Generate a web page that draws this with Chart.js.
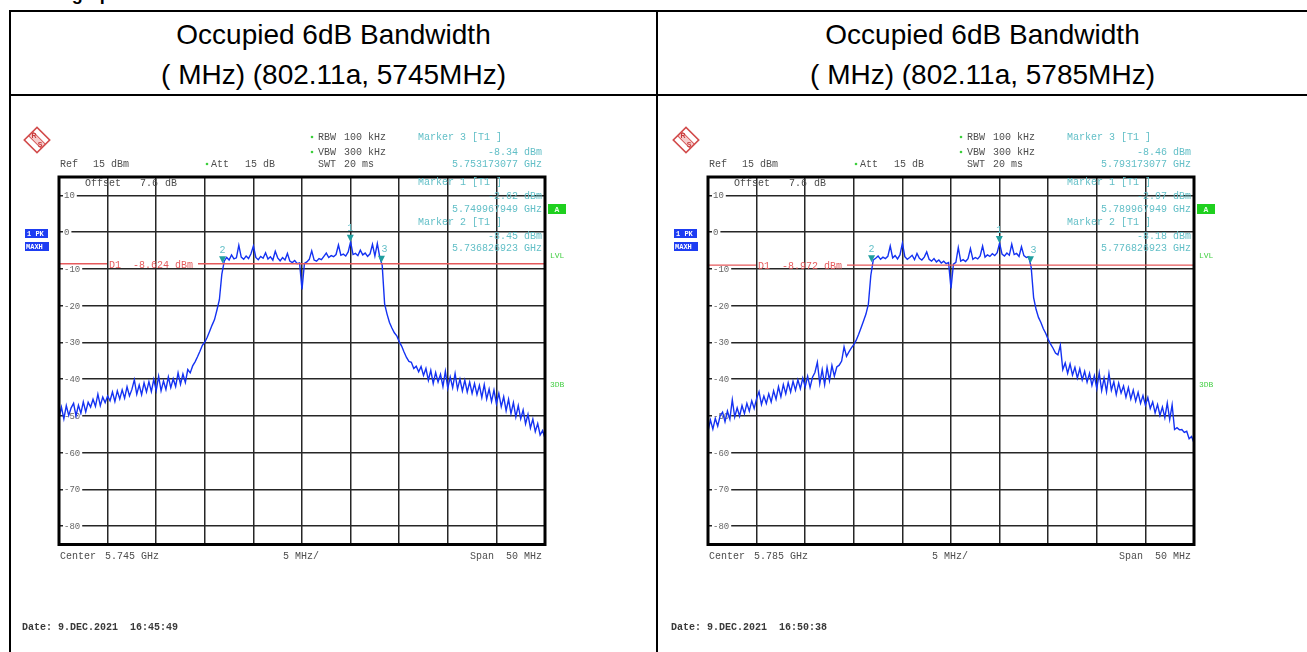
<!DOCTYPE html>
<html>
<head>
<meta charset="utf-8">
<script src="https://cdn.jsdelivr.net/npm/chart.js@4.4.0/dist/chart.umd.min.js"></script>
<style>
body { margin:0; background:#fff; width:1307px; height:652px; overflow:hidden; position:relative; font-family:"Liberation Sans", Arial, sans-serif; }
.ln { position:absolute; background:#000; }
.hd { position:absolute; text-align:center; font-size:28px; line-height:28px; color:#000; white-space:nowrap; }
canvas { position:absolute; }
</style>
</head>
<body>
<div style="position:absolute;left:31px;top:-17.5px;font:bold 18px 'Liberation Sans';line-height:22px">Test graph</div>

<div class="ln" style="left:9px;top:10px;width:1300px;height:2px"></div>
<div class="ln" style="left:9px;top:94px;width:1300px;height:2px"></div>
<div class="ln" style="left:9px;top:10px;width:2px;height:642px"></div>
<div class="ln" style="left:656px;top:10px;width:2px;height:642px"></div>

<div class="hd" style="left:11px;width:645px;top:21px">Occupied 6dB Bandwidth</div>
<div class="hd" style="left:11px;width:645px;top:61px">( MHz) (802.11a, 5745MHz)</div>
<div class="hd" style="left:658px;width:649px;top:21px">Occupied 6dB Bandwidth</div>
<div class="hd" style="left:658px;width:649px;top:61px">( MHz) (802.11a, 5785MHz)</div>

<canvas id="plotA" width="645" height="556" style="left:11px;top:96px"></canvas>
<canvas id="plotB" width="648" height="556" style="left:658px;top:96px"></canvas>

<script>
// spectrum analyser sweep, 0.25 MHz per sample, 50 MHz span
var freqStep = 0.25;
var span = 50;
var startA = 5720;
var startB = 5760;

var yTickValues = [10, 0, -10, -20, -30, -40, -50, -60, -70, -80];

// 5745 MHz trace (dBm)
var levelsA = [
  -50.6, -47.6, -50.8, -47.2, -49.9, -47.8, -46.6, -50.0, -47.1, -49.3,
  -46.2, -48.9, -46.3, -47.6, -45.5, -47.4, -44.1, -47.2, -44.9, -46.4,
  -44.6, -45.9, -43.5, -46.1, -43.2, -45.4, -42.9, -45.2, -42.1, -44.6,
  -42.8, -40.2, -44.1, -41.6, -44.2, -41.0, -43.5, -40.7, -43.4, -40.1,
  -43.1, -39.2, -43.2, -40.5, -42.8, -39.4, -42.3, -39.9, -42.0, -38.3,
  -41.4, -38.6, -40.9, -37.4, -38.3, -36.4, -35.3, -33.9, -32.4, -30.8,
  -29.9, -28.6, -27.0, -25.3, -23.8, -21.2, -18.4, -11.5, -7.9, -6.9,
  -7.6, -6.2, -7.3, -7.0, -3.6, -6.8, -7.4, -6.5, -7.2, -5.9,
  -3.8, -6.9, -7.5, -6.6, -7.1, -5.6, -7.3, -6.7, -7.6, -5.2,
  -7.0, -7.8, -6.9, -7.6, -5.8, -7.9, -8.3, -7.7, -8.6, -8.4,
  -15.6, -8.5, -8.1, -7.4, -5.1, -7.6, -7.9, -7.2, -7.5, -6.6,
  -5.7, -6.9, -6.4, -6.7, -6.1, -3.5, -6.3, -6.0, -6.5, -5.4,
  -2.62, -6.1, -5.8, -6.4, -4.9, -6.2, -5.7, -6.6, -5.9, -3.3,
  -6.5, -3.1, -6.8, -9.0, -19.5, -22.3, -24.6, -26.1, -27.4, -28.2,
  -29.8, -31.0, -32.6, -34.1, -35.2, -35.4, -37.1, -36.5, -38.0, -36.6,
  -39.0, -37.1, -40.3, -37.6, -41.2, -38.2, -40.8, -38.7, -42.0, -37.9,
  -42.5, -39.4, -42.3, -38.5, -42.7, -40.0, -43.2, -40.3, -43.5, -40.8,
  -43.9, -41.2, -44.2, -41.7, -45.0, -41.5, -45.4, -42.7, -46.1, -43.0,
  -46.7, -43.9, -47.5, -44.8, -48.6, -45.5, -49.4, -46.4, -50.3, -47.2,
  -50.8, -48.4, -52.2, -49.6, -53.3, -50.9, -54.3, -52.1, -55.2, -54.0,
  -56.1
];

// 5785 MHz trace (dBm)
var levelsB = [
  -54.2, -51.1, -53.6, -50.7, -52.8, -50.0, -49.0, -51.6, -48.7, -50.9,
  -45.6, -50.3, -47.8, -50.1, -47.2, -49.4, -46.6, -48.7, -45.9, -48.0,
  -45.3, -43.4, -46.9, -44.6, -46.6, -44.0, -46.2, -43.2, -45.5, -42.1,
  -44.8, -41.5, -44.0, -41.0, -43.5, -40.6, -43.0, -40.2, -42.6, -39.7,
  -42.1, -39.2, -42.3, -39.5, -38.2, -35.4, -41.2, -37.4, -41.5, -36.8,
  -40.4, -36.3, -39.2, -36.7, -36.2, -35.1, -31.2, -33.8, -32.6, -31.5,
  -30.6, -29.4, -27.8, -26.0, -24.2, -22.3, -19.6, -11.8, -7.6, -7.1,
  -6.5, -7.4, -6.8, -7.2, -6.6, -3.8, -7.0, -6.4, -7.3, -6.2,
  -3.0, -6.7, -7.4, -6.9, -6.3, -7.5, -5.8, -7.1, -7.6, -6.8,
  -5.4, -7.4, -7.9, -7.2, -8.1, -7.6, -8.4, -7.9, -8.6, -8.3,
  -15.3, -8.7, -8.2, -4.2, -7.9, -7.5, -8.0, -7.2, -4.5, -7.4,
  -6.9, -7.3, -6.5, -3.8, -6.8, -6.2, -6.6, -5.9, -6.4, -5.6,
  -2.97, -6.0, -6.5, -5.7, -6.3, -3.3, -6.1, -5.8, -6.6, -4.0,
  -6.4, -6.9, -6.7, -9.6, -17.8, -21.0, -23.2, -24.6, -26.3, -27.6,
  -29.2, -30.5, -31.6, -32.9, -33.4, -30.8, -37.4, -35.6, -38.4, -35.9,
  -38.9, -36.8, -39.7, -37.2, -40.2, -37.9, -40.8, -38.4, -41.7, -39.1,
  -42.6, -38.3, -43.1, -39.7, -43.4, -38.5, -43.0, -40.7, -44.2, -41.1,
  -43.8, -41.9, -44.9, -42.3, -45.4, -43.0, -46.0, -43.6, -46.6, -44.5,
  -47.1, -45.0, -48.0, -46.2, -49.2, -46.9, -49.9, -47.6, -50.5, -46.5,
  -51.0, -47.0, -53.7, -53.2, -53.8, -53.7, -54.5, -54.2, -56.2, -55.6,
  -57.4
];

// markers 1, 2, 3 (MHz, dBm)
var markerFreqA = [5749.967949, 5736.826923, 5753.173077];
var markerLevelA = [-2.62, -8.45, -8.34];
var markerFreqB = [5789.967949, 5776.826923, 5793.173077];
var markerLevelB = [-2.97, -8.18, -8.46];
var displayLineA = -8.624;
var displayLineB = -8.972;

var grey = '#4d4d4d', cyan = '#62bfc7', red = '#e65a5c', green = '#45cf45';

function txt(ctx, s, x, y, color, align, font) {
	ctx.font = font || '10px "Liberation Mono"';
	ctx.fillStyle = color;
	ctx.textAlign = align || 'left';
	ctx.textBaseline = 'middle';
	ctx.fillText(s, x, y);
}

function drawLogo(ctx, cx, cy) {
	ctx.save();
	ctx.translate(cx, cy);
	ctx.rotate(Math.PI / 4);
	ctx.fillStyle = 'rgba(225,110,110,0.35)';
	ctx.fillRect(-9, -3, 18, 6);
	ctx.strokeStyle = '#d24b4b';
	ctx.lineWidth = 1.6;
	ctx.strokeRect(-9, -9, 18, 18);
	ctx.beginPath();
	ctx.moveTo(-9, -3); ctx.lineTo(9, -3);
	ctx.moveTo(-9, 3); ctx.lineTo(9, 3);
	ctx.lineWidth = 1;
	ctx.stroke();
	ctx.restore();
	txt(ctx, 'R', cx - 3, cy - 4, '#c83c3c', 'center', 'bold 7px "Liberation Sans"');
	txt(ctx, 'S', cx + 3, cy + 5, '#c83c3c', 'center', 'bold 7px "Liberation Sans"');
}

function makeAnnot(info) {
	return {
		id: 'annot',
		beforeDatasetsDraw: function (chart) {
			var ctx = chart.ctx, a = chart.chartArea, y = chart.scales.y;
			ctx.save();
			ctx.font = '9px "Liberation Mono"';
			yTickValues.forEach(function (v) {
				var py = y.getPixelForValue(v);
				var t = String(v);
				var w = ctx.measureText(t).width;
				ctx.fillStyle = '#fff';
				ctx.fillRect(a.left + 4, py - 4, w + 3, 8);
				txt(ctx, t, a.left + 5, py + 0.5, '#666', 'left', '9px "Liberation Mono"');
			});
			ctx.restore();
		},
		afterDatasetsDraw: function (chart) {
			var ctx = chart.ctx, a = chart.chartArea, x = chart.scales.x, y = chart.scales.y;
			ctx.save();
			// display line D1
			var py = y.getPixelForValue(info.d1);
			ctx.strokeStyle = red;
			ctx.lineWidth = 1.4;
			ctx.beginPath();
			ctx.moveTo(a.left, py); ctx.lineTo(a.left + 48, py);
			ctx.moveTo(a.left + 139, py); ctx.lineTo(a.right, py);
			ctx.stroke();
			txt(ctx, 'D1  ' + info.d1 + ' dBm', a.left + 50, py + 1.5, red);
			// marker triangles
			var names = ['1', '2', '3'];
			info.mf.forEach(function (f, i) {
				var mx = x.getPixelForValue(f), my = y.getPixelForValue(info.ml[i]);
				ctx.fillStyle = '#1f9e9e';
				ctx.beginPath();
				ctx.moveTo(mx - 3.5, my - 7);
				ctx.lineTo(mx + 3.5, my - 7);
				ctx.lineTo(mx, my);
				ctx.closePath();
				ctx.fill();
				txt(ctx, names[i], mx + (i == 2 ? 3 : 0), my - 13, cyan, 'center');
			});
			ctx.restore();
		},
		afterDraw: function (chart) {
			var ctx = chart.ctx, a = chart.chartArea;
			var L = a.left, T = a.top, B = a.bottom;
			ctx.save();
			ctx.strokeStyle = '#000';
			ctx.lineWidth = 3;
			ctx.strokeRect(L, T, a.right - L, B - T);

			drawLogo(ctx, L - 22, T - 37);

			ctx.fillStyle = '#3ccf3c';
			[[L + 253, T - 40], [L + 253, T - 25], [L + 148, T - 13]].forEach(function (p) {
				ctx.beginPath(); ctx.arc(p[0], p[1], 1.3, 0, 2 * Math.PI); ctx.fill();
			});
			txt(ctx, 'RBW', L + 259, T - 40, grey);
			txt(ctx, '100 kHz', L + 285, T - 40, grey);
			txt(ctx, 'VBW', L + 259, T - 25, grey);
			txt(ctx, '300 kHz', L + 285, T - 25, grey);
			txt(ctx, 'SWT', L + 259, T - 13, grey);
			txt(ctx, '20 ms', L + 285, T - 13, grey);
			txt(ctx, 'Ref', L + 1, T - 13, grey);
			txt(ctx, '15 dBm', L + 34, T - 13, grey);
			txt(ctx, 'Att', L + 152, T - 13, grey);
			txt(ctx, '15 dB', L + 186, T - 13, grey);
			txt(ctx, 'Offset', L + 26, T + 6, grey);
			txt(ctx, '7.6', L + 81, T + 6, grey);
			txt(ctx, 'dB', L + 106, T + 6, grey);

			var mr = L + 483;
			txt(ctx, 'Marker 3 [T1 ]', L + 359, T - 40, cyan);
			txt(ctx, info.ml[2].toFixed(2) + ' dBm', mr, T - 25, cyan, 'right');
			txt(ctx, info.mt[2] + ' GHz', mr, T - 13, cyan, 'right');
			txt(ctx, 'Marker 1 [T1 ]', L + 359, T + 5, cyan);
			txt(ctx, info.ml[0].toFixed(2) + ' dBm', mr, T + 19, cyan, 'right');
			txt(ctx, info.mt[0] + ' GHz', mr, T + 32, cyan, 'right');
			txt(ctx, 'Marker 2 [T1 ]', L + 359, T + 45, cyan);
			txt(ctx, info.ml[1].toFixed(2) + ' dBm', mr, T + 59, cyan, 'right');
			txt(ctx, info.mt[1] + ' GHz', mr, T + 71, cyan, 'right');

			ctx.fillStyle = '#1fd01f';
			ctx.fillRect(L + 489, T + 27, 18, 10);
			txt(ctx, 'A', L + 498, T + 32.5, '#e8ffe8', 'center', 'bold 8px "Liberation Mono"');
			txt(ctx, 'LVL', L + 491, T + 79, green, 'left', '8px "Liberation Mono"');
			txt(ctx, '3DB', L + 491, T + 208, green, 'left', '8px "Liberation Mono"');

			ctx.fillStyle = '#1d3cf2';
			ctx.fillRect(L - 34, T + 52, 23, 9);
			ctx.fillRect(L - 34, T + 65, 24, 9);
			txt(ctx, '1 PK', L - 32, T + 57, '#fff', 'left', 'bold 7px "Liberation Mono"');
			txt(ctx, 'MAXH', L - 33, T + 70, '#fff', 'left', 'bold 7px "Liberation Mono"');

			txt(ctx, 'Center', L + 1, B + 11.5, grey);
			txt(ctx, info.center, L + 46, B + 11.5, grey);
			txt(ctx, '5 MHz/', L + 224, B + 11.5, grey);
			txt(ctx, 'Span  50 MHz', L + 483, B + 11.5, grey, 'right');
			txt(ctx, info.date, L - 37, B + 82.5, '#3a3a3a', 'left', 'bold 10px "Liberation Mono"');
			ctx.restore();
		}
	};
}

function makeChart(id, levels, fStart, pad, info) {
	var pts = levels.map(function (v, i) { return { x: fStart + i * freqStep, y: v }; });
	var grid = { color: '#262626', lineWidth: 1.5, drawTicks: false };
	return new Chart(document.getElementById(id), {
		type: 'line',
		data: {
			datasets: [{
				data: pts,
				borderColor: '#1432f2',
				borderWidth: 1.4,
				pointRadius: 0,
				tension: 0
			}]
		},
		options: {
			responsive: false,
			animation: false,
			layout: { padding: pad },
			plugins: { legend: { display: false }, tooltip: { enabled: false } },
			scales: {
				x: {
					type: 'linear', min: fStart, max: fStart + span,
					afterBuildTicks: function (s) {
						var t = [];
						for (var k = 1; k < 10; k++) t.push({ value: fStart + 5 * k });
						s.ticks = t;
					},
					afterFit: function (s) { s.height = 0; },
					ticks: { display: false },
					grid: grid,
					border: { display: false }
				},
				y: {
					min: -85, max: 15,
					afterBuildTicks: function (s) {
						s.ticks = yTickValues.map(function (v) { return { value: v }; });
					},
					afterFit: function (s) { s.width = 0; },
					ticks: { display: false },
					grid: grid,
					border: { display: false }
				}
			}
		},
		plugins: [makeAnnot(info)]
	});
}

makeChart('plotA', levelsA, startA, { left: 48, top: 81, right: 111, bottom: 107.5 }, {
	d1: displayLineA, mf: markerFreqA, ml: markerLevelA,
	mt: ['5.749967949', '5.736826923', '5.753173077'],
	center: '5.745 GHz', date: 'Date: 9.DEC.2021  16:45:49'
});
makeChart('plotB', levelsB, startB, { left: 50, top: 81, right: 112, bottom: 107.5 }, {
	d1: displayLineB, mf: markerFreqB, ml: markerLevelB,
	mt: ['5.789967949', '5.776826923', '5.793173077'],
	center: '5.785 GHz', date: 'Date: 9.DEC.2021  16:50:38'
});
</script>
</body>
</html>
